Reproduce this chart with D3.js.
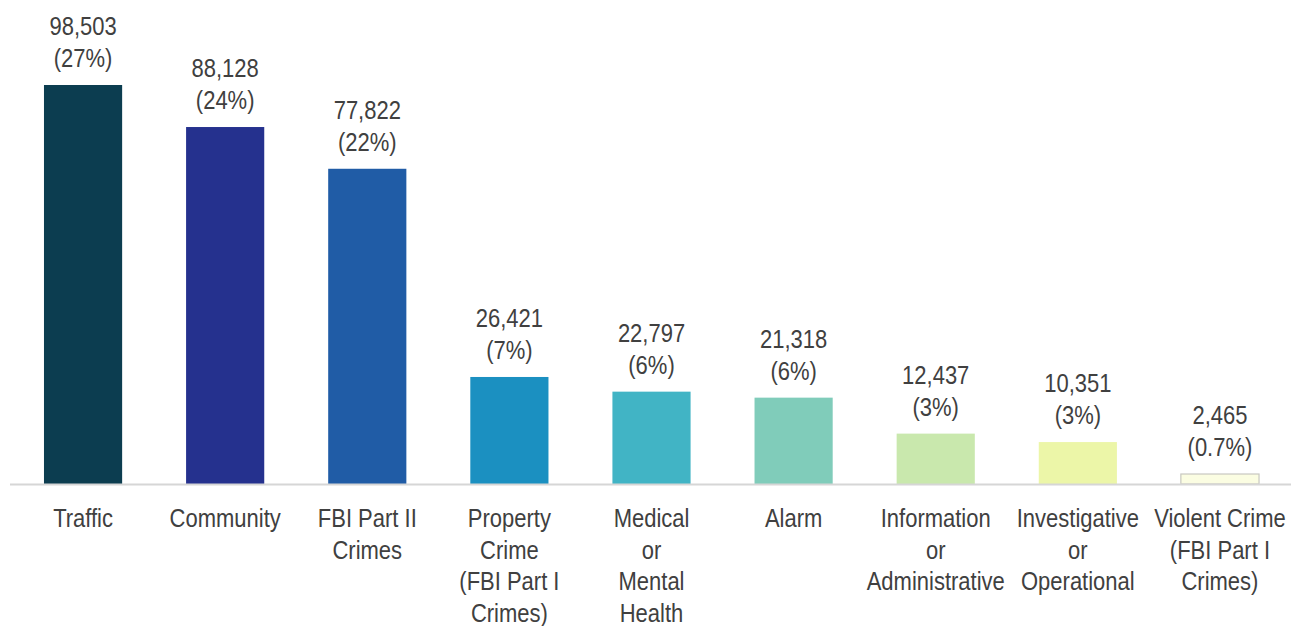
<!DOCTYPE html>
<html>
<head>
<meta charset="utf-8">
<script src="https://cdn.jsdelivr.net/npm/d3@7"></script>
<style>
  body { margin: 0; background: #fff; }
  text { font-family: "Liberation Sans", Arial, sans-serif; fill: #404040; }
</style>
</head>
<body>
<svg id="chart"></svg>
<script>
// categories (each label split into its lines), counts and shares
var categories = [
  ["Traffic"],
  ["Community"],
  ["FBI Part II", "Crimes"],
  ["Property", "Crime", "(FBI Part I", "Crimes)"],
  ["Medical", "or", "Mental", "Health"],
  ["Alarm"],
  ["Information", "or", "Administrative"],
  ["Investigative", "or", "Operational"],
  ["Violent Crime", "(FBI Part I", "Crimes)"]
];
var counts = [98503, 88128, 77822, 26421, 22797, 21318, 12437, 10351, 2465];
var shares = ["27%", "24%", "22%", "7%", "6%", "6%", "3%", "3%", "0.7%"];
var colors = ["#0c3d50", "#25318e", "#205ca6", "#1b90c1", "#41b4c5", "#80ccba", "#c9e8ad", "#ecf6a8", "#fbfde2"];

var width = 1291, height = 626,
    baseY = 484, lineH = 31.5, vStretch = 1.15;

var svg = d3.select("#chart")
    .attr("width", width)
    .attr("height", height);

var x = d3.scaleBand()
    .domain(d3.range(counts.length))
    .range([12, 1291])
    .paddingInner(0.45)
    .paddingOuter(0.225);

var y = d3.scaleLinear()
    .domain([0, d3.max(counts)])
    .range([baseY, 85]);

// bars
svg.append("g").selectAll("rect")
    .data(counts)
    .enter().append("rect")
      .attr("x", (d, i) => x(i))
      .attr("y", d => y(d))
      .attr("width", x.bandwidth())
      .attr("height", d => baseY - y(d))
      .attr("fill", (d, i) => colors[i])
      .attr("stroke", (d, i) => i == counts.length - 1 ? "#c8c8c0" : "none")
      .attr("stroke-width", 1.2);

// baseline
svg.append("line")
    .attr("x1", 10).attr("x2", width)
    .attr("y1", baseY + 0.5).attr("y2", baseY + 0.5)
    .attr("stroke", "#d6d6d6")
    .attr("stroke-width", 2);

var fmt = d3.format(",");

// value labels above bars
var vals = svg.append("g").selectAll("g")
    .data(counts)
    .enter().append("g")
      .attr("transform", (d, i) => "translate(" + (x(i) + x.bandwidth() / 2) + "," + (y(d) - 18) + ")");

vals.append("text")
    .attr("text-anchor", "middle")
    .attr("font-size", 22)
    .attr("transform", "translate(0," + (-32) + ") scale(1," + vStretch + ")")
    .text(d => fmt(d));

vals.append("text")
    .attr("text-anchor", "middle")
    .attr("font-size", 22)
    .attr("transform", "scale(1," + vStretch + ")")
    .text((d, i) => "(" + shares[i] + ")");

// category labels below axis
var cats = svg.append("g").selectAll("g")
    .data(categories)
    .enter().append("g")
      .attr("transform", (d, i) => "translate(" + (x(i) + x.bandwidth() / 2) + ",0)");

cats.selectAll("text")
    .data(d => d)
    .enter().append("text")
      .attr("text-anchor", "middle")
      .attr("font-size", 22)
      .attr("transform", (d, j) => "translate(0," + (527 + j * lineH) + ") scale(1," + vStretch + ")")
      .text(d => d);
</script>
</body>
</html>
